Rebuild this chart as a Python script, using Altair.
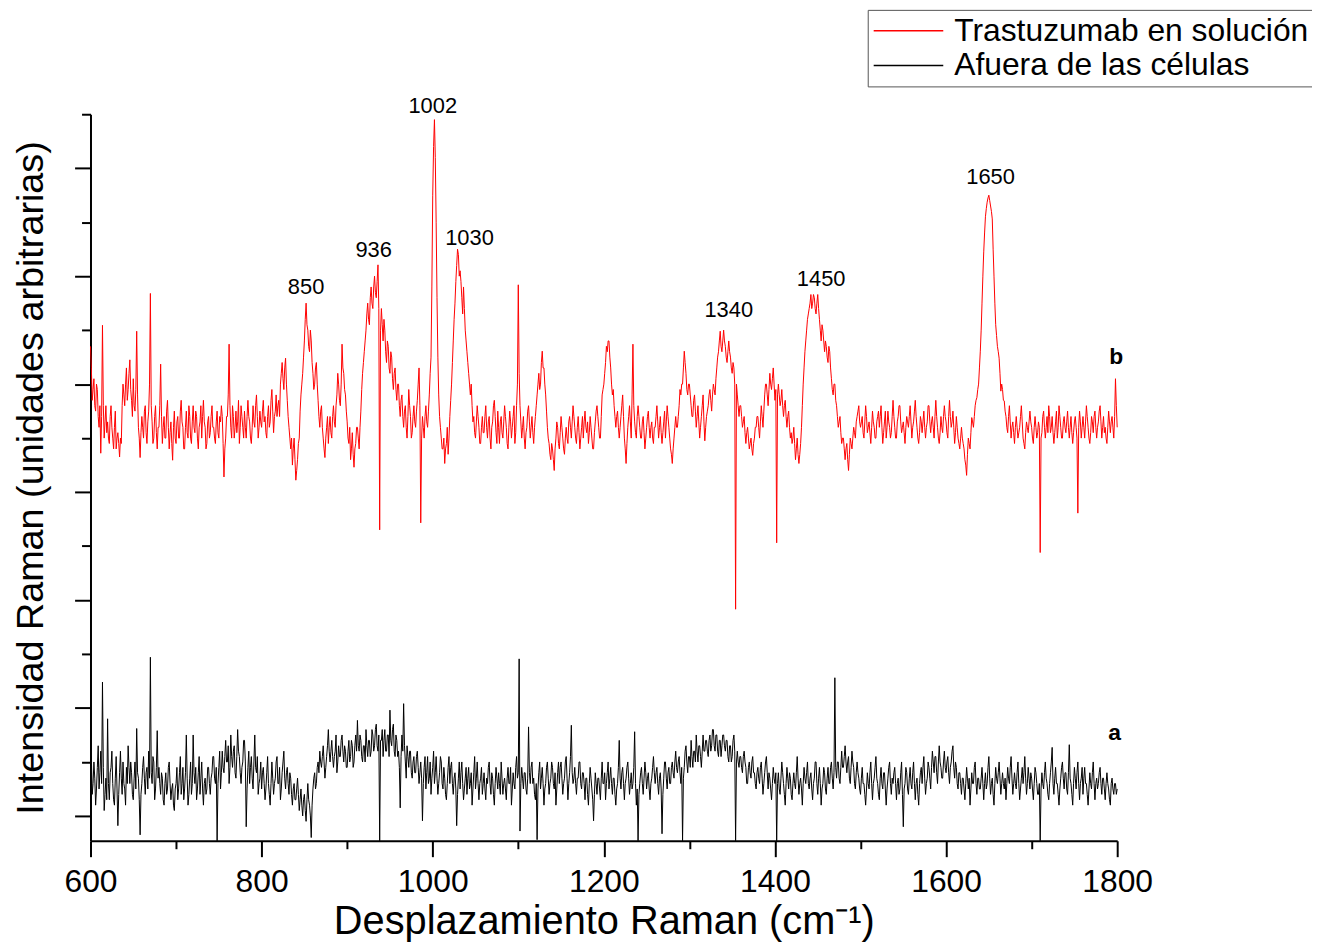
import altair as alt
import pandas as pd

RED_NAME = "Trastuzumab en solución"
BLACK_NAME = "Afuera de las células"

# Red spectrum (b): one value per cm-1, each row covers 20 cm-1 starting at 600
red_rows = [
    [870, 830, 770, 790, 810, 760, 750, 800, 790, 740, 720, 760, 672, 740, 909, 760, 700, 730, 760, 710],  # 600
    [730, 700, 690, 740, 760, 720, 700, 680, 720, 750, 680, 700, 710, 690, 665, 700, 690, 760, 800, 780],  # 620
    [760, 800, 830, 770, 790, 820, 845, 790, 770, 740, 810, 760, 750, 790, 898, 780, 720, 700, 664, 710],  # 640
    [740, 720, 700, 750, 760, 710, 690, 730, 750, 800, 968, 760, 730, 690, 700, 740, 760, 710, 680, 720],  # 660
    [720, 760, 837, 740, 690, 720, 740, 700, 700, 750, 770, 720, 680, 710, 730, 690, 659, 720, 750, 700],  # 680
    [690, 730, 740, 700, 700, 750, 770, 730, 720, 680, 680, 720, 750, 710, 700, 760, 740, 700, 690, 730],  # 700
    [760, 720, 710, 750, 740, 700, 680, 720, 730, 760, 700, 740, 770, 730, 720, 680, 690, 730, 740, 700],  # 720
    [710, 740, 760, 720, 720, 700, 690, 730, 750, 710, 700, 740, 730, 760, 740, 690, 628, 680, 700, 740],  # 740
    [740, 780, 874, 760, 720, 700, 760, 740, 700, 720, 750, 710, 730, 770, 690, 720, 760, 740, 720, 700],  # 760
    [750, 720, 700, 740, 770, 740, 730, 700, 690, 720, 760, 730, 720, 760, 780, 740, 700, 720, 750, 730],  # 780
    [720, 750, 770, 730, 740, 710, 700, 740, 760, 720, 730, 770, 790, 750, 710, 740, 750, 780, 740, 760],  # 800
    [770, 740, 800, 820, 840, 810, 790, 830, 848, 800, 770, 740, 720, 700, 680, 700, 650, 680, 700, 660],  # 820
    [622, 640, 660, 690, 700, 750, 780, 800, 820, 850, 880, 920, 950, 910, 900, 870, 860, 900, 880, 840],  # 840
    [820, 790, 800, 830, 840, 800, 770, 740, 720, 750, 760, 720, 700, 680, 664, 700, 720, 740, 690, 720],  # 860
    [740, 710, 700, 740, 760, 730, 720, 760, 780, 820, 800, 770, 760, 800, 874, 830, 820, 790, 780, 750],  # 880
    [730, 700, 690, 720, 660, 680, 710, 670, 646, 680, 690, 720, 720, 700, 680, 720, 750, 790, 820, 840],  # 900
    [860, 880, 900, 930, 950, 920, 910, 960, 980, 950, 940, 980, 1000, 970, 960, 990, 1021, 940, 530, 900],  # 920
    [940, 910, 880, 920, 900, 860, 840, 880, 870, 830, 820, 860, 850, 810, 790, 820, 830, 790, 770, 800],  # 940
    [800, 760, 740, 770, 780, 740, 720, 750, 760, 720, 700, 740, 790, 760, 740, 700, 710, 740, 760, 730],  # 960
    [720, 750, 770, 800, 830, 760, 543, 700, 740, 720, 700, 740, 760, 730, 720, 750, 780, 820, 850, 980],  # 980
    [1150, 1240, 1290, 1220, 1100, 960, 850, 780, 740, 720, 700, 680, 680, 700, 653, 680, 690, 720, 670, 700],  # 1000
    [740, 770, 800, 840, 880, 920, 950, 990, 1020, 1050, 1040, 1000, 1010, 990, 960, 930, 980, 940, 900, 880],  # 1020
    [860, 840, 820, 800, 780, 800, 760, 730, 740, 710, 700, 730, 760, 740, 720, 690, 690, 720, 740, 710],  # 1040
    [710, 740, 760, 720, 700, 730, 740, 700, 680, 720, 730, 760, 770, 740, 710, 690, 750, 720, 690, 730],  # 1060
    [740, 710, 700, 730, 760, 740, 720, 690, 680, 720, 750, 730, 700, 720, 740, 760, 690, 710, 760, 800],  # 1080
    [984, 820, 760, 730, 700, 720, 740, 700, 680, 710, 720, 750, 760, 730, 700, 720, 740, 710, 690, 720],  # 1100
    [740, 760, 780, 800, 820, 790, 800, 840, 861, 830, 830, 800, 780, 750, 720, 700, 690, 670, 660, 690],  # 1120
    [680, 660, 640, 680, 700, 730, 720, 690, 680, 710, 740, 720, 700, 680, 670, 700, 720, 700, 690, 730],  # 1140
    [740, 720, 700, 730, 760, 740, 720, 700, 690, 720, 740, 710, 680, 700, 720, 740, 700, 730, 750, 720],  # 1160
    [710, 730, 690, 710, 740, 720, 700, 680, 680, 710, 730, 750, 760, 740, 720, 700, 700, 740, 780, 790],  # 1180
    [800, 820, 840, 870, 860, 880, 880, 850, 830, 800, 780, 790, 760, 740, 720, 740, 750, 720, 700, 720],  # 1200
    [740, 760, 780, 740, 700, 680, 653, 690, 720, 740, 760, 730, 700, 780, 874, 760, 730, 710, 700, 740],  # 1220
    [760, 740, 720, 700, 700, 730, 740, 710, 680, 700, 720, 740, 750, 720, 700, 720, 730, 700, 690, 720],  # 1240
    [720, 740, 760, 730, 700, 720, 740, 710, 690, 710, 730, 750, 700, 730, 760, 740, 720, 700, 680, 670],  # 1260
    [653, 680, 700, 720, 740, 720, 720, 740, 760, 790, 780, 800, 800, 830, 861, 840, 820, 790, 780, 800],  # 1280
    [800, 780, 760, 740, 740, 770, 780, 750, 720, 740, 760, 730, 700, 720, 740, 760, 780, 730, 695, 720],  # 1300
    [740, 750, 760, 780, 790, 770, 750, 780, 800, 790, 780, 810, 830, 850, 860, 880, 898, 870, 860, 880],  # 1320
    [900, 880, 870, 850, 840, 860, 880, 860, 850, 830, 820, 840, 830, 800, 383, 800, 780, 760, 740, 760],  # 1340
    [760, 740, 720, 730, 740, 710, 690, 710, 720, 700, 680, 690, 700, 680, 668, 690, 700, 720, 720, 740],  # 1360
    [740, 720, 700, 730, 760, 740, 720, 750, 780, 800, 800, 780, 760, 790, 820, 800, 790, 810, 830, 800],  # 1380
    [770, 790, 506, 780, 800, 780, 760, 770, 790, 760, 740, 760, 770, 740, 720, 740, 750, 720, 700, 710],  # 1400
    [690, 700, 720, 690, 660, 680, 700, 670, 653, 670, 690, 720, 760, 800, 830, 860, 880, 900, 920, 930],  # 1420
    [940, 950, 966, 940, 950, 966, 960, 940, 930, 950, 966, 940, 920, 900, 880, 910, 900, 880, 860, 880],  # 1440
    [870, 850, 840, 870, 860, 830, 810, 790, 780, 800, 800, 770, 760, 740, 720, 730, 740, 710, 690, 700],  # 1460
    [700, 680, 660, 680, 690, 660, 640, 670, 700, 690, 680, 700, 720, 710, 700, 730, 740, 750, 760, 730],  # 1480
    [720, 730, 740, 710, 700, 730, 760, 740, 710, 720, 730, 710, 690, 720, 750, 730, 720, 700, 700, 730],  # 1500
    [740, 750, 720, 740, 760, 720, 690, 710, 730, 750, 700, 720, 750, 730, 720, 700, 710, 740, 770, 740],  # 1520
    [720, 700, 700, 730, 740, 760, 760, 730, 710, 720, 730, 710, 690, 720, 740, 730, 720, 740, 760, 730],  # 1540
    [700, 720, 730, 750, 770, 740, 720, 700, 690, 710, 740, 730, 710, 730, 750, 720, 700, 720, 730, 760],  # 1560
    [760, 730, 710, 730, 740, 720, 700, 740, 770, 740, 720, 700, 690, 710, 740, 720, 710, 740, 760, 740],  # 1580
    [730, 710, 700, 740, 770, 740, 720, 730, 750, 720, 690, 710, 740, 720, 700, 690, 680, 700, 720, 700],  # 1600
    [690, 680, 660, 650, 631, 670, 700, 690, 680, 710, 738, 730, 720, 740, 760, 770, 775, 790, 800, 830],  # 1620
    [861, 900, 950, 1000, 1045, 1080, 1110, 1125, 1137, 1145, 1150, 1140, 1130, 1120, 1106, 1050, 1000, 950, 910, 890],  # 1640
    [870, 860, 848, 820, 787, 800, 790, 770, 769, 750, 740, 720, 710, 740, 760, 730, 700, 720, 730, 710],  # 1660
    [690, 720, 740, 720, 700, 710, 720, 740, 760, 730, 700, 690, 680, 710, 730, 720, 710, 730, 750, 730],  # 1680
    [720, 700, 690, 720, 740, 720, 700, 710, 730, 720, 488, 700, 710, 740, 750, 720, 700, 720, 740, 710],  # 1700
    [760, 740, 710, 720, 740, 710, 690, 710, 730, 750, 700, 720, 760, 740, 720, 700, 700, 730, 740, 720],  # 1720
    [710, 730, 750, 720, 700, 720, 740, 710, 690, 710, 730, 740, 720, 700, 561, 720, 750, 730, 700, 720],  # 1740
    [740, 720, 700, 730, 760, 740, 720, 700, 690, 710, 740, 730, 710, 740, 750, 720, 700, 720, 730, 750],  # 1760
    [760, 730, 700, 720, 740, 710, 720, 700, 690, 720, 750, 730, 710, 730, 740, 720, 700, 740, 810, 760],  # 1780
]
red_last = 720  # 1800

# Black spectrum (a)
black_rows = [
    [80, 110, 40, 60, 100, 70, 20, 50, 90, 130, 50, 80, 120, 60, 248, 90, 10, 40, 70, 30],  # 600
    [180, 60, 30, 80, 90, 120, 60, 30, 20, 70, 110, 50, -18, 40, 80, 120, 70, 40, 100, 60],  # 620
    [50, 20, 90, 60, 130, 90, 60, 100, 80, 40, 30, 70, 100, 50, 162, 80, 70, 30, -35, 40],  # 640
    [60, 90, 110, 70, 40, 80, 90, 50, 120, 70, 294, 80, 60, 110, 100, 30, 50, 90, 158, 70],  # 660
    [90, 60, 40, 80, 70, 30, 20, 60, 80, 40, 50, 90, 100, 60, 30, 50, 60, 20, 10, 50],  # 680
    [60, 90, 30, 50, 80, 110, 40, 60, 90, 30, 50, 80, 150, 70, 20, 40, 70, 100, 40, 60],  # 700
    [150, 80, 60, 90, 30, 50, 80, 110, 40, 70, 100, 50, 20, 60, 70, 40, 50, 90, 90, 60],  # 720
    [40, 70, 80, 110, 110, 70, 60, 90, -46, 60, 90, 120, 50, 80, 120, 90, 80, 110, 140, 100],  # 740
    [100, 130, 60, 90, 150, 110, 90, 120, 130, 80, 70, 110, 160, 120, 110, 80, 60, 90, 100, 140],  # 760
    [140, 100, -20, 50, 90, 120, 60, 90, 110, 70, 50, 100, 150, 90, 80, 110, 40, 60, 70, 100],  # 780
    [50, 80, 90, 60, 30, 50, 80, 110, 60, 40, 20, 60, 100, 70, 40, 60, 70, 100, 110, 60],  # 800
    [60, 90, 30, 50, 80, 100, 120, 70, 50, 80, 90, 60, 40, 80, 70, 40, 20, 50, 60, 30],  # 820
    [30, 50, 70, 40, 10, 30, 50, 20, 0, 30, 40, 10, -10, 30, 60, 30, 20, 0, -40, 20],  # 840
    [50, 70, 80, 50, 60, 90, 100, 80, 120, 100, 90, 110, 130, 100, 70, 90, 110, 130, 160, 120],  # 860
    [100, 120, 140, 110, 90, 110, 120, 150, 80, 100, 130, 110, 110, 140, 150, 120, 100, 130, 120, 90],  # 880
    [90, 120, 140, 100, 110, 140, 130, 90, 100, 130, 150, 120, 177, 130, 120, 150, 140, 110, 100, 130],  # 900
    [130, 100, 160, 130, 110, 140, 140, 110, 120, 160, 150, 120, 130, 160, 170, 130, 120, 150, -46, 140],  # 920
    [140, 160, 110, 140, 160, 120, 120, 150, 150, 110, 196, 140, 130, 160, 170, 120, 110, 150, 140, 110],  # 940
    [120, 90, 15, 110, 150, 120, 208, 130, 100, 70, 130, 110, 90, 120, 120, 80, 70, 100, 110, 80],  # 960
    [80, 110, 120, 90, 60, 80, 100, 70, -9, 60, 90, 110, 50, 80, 110, 60, 70, 100, 40, 70],  # 980
    [90, 120, 60, 80, 110, 70, 40, 60, 80, 110, 100, 60, 50, 90, 70, 40, 30, 60, 90, 110],  # 1000
    [60, 90, 100, 60, 40, 70, 80, 50, -18, 40, 70, 100, 50, 80, 100, 60, 30, 50, 70, 90],  # 1020
    [40, 70, 90, 50, 60, 80, 20, 50, 80, 110, 50, 70, 100, 60, 30, 60, 70, 90, 40, 60],  # 1040
    [80, 50, 30, 70, 60, 90, 100, 60, 40, 80, 70, 40, 20, 60, 90, 70, 50, 80, 60, 40],  # 1060
    [100, 70, 40, 60, 70, 50, 30, 70, 90, 60, 60, 90, 20, 50, 80, 60, 50, 90, 110, 70],  # 1080
    [80, 291, -28, 60, 90, 70, 50, 80, 80, 50, 40, 70, 165, 80, 60, 90, 100, 60, 70, 40],  # 1100
    [30, 60, -44, 50, 80, 100, 50, 70, 90, 60, 20, 50, 60, 90, 100, 70, 40, 60, 70, 100],  # 1120
    [90, 60, 50, 80, 20, 50, 80, 100, 60, 90, 100, 70, 40, 60, 70, 100, 110, 70, 30, 60],  # 1140
    [80, 110, 168, 80, 60, 70, 90, 60, 40, 70, 70, 100, 100, 60, 50, 80, 80, 60, 30, 70],  # 1160
    [70, 40, 20, 60, 90, 70, 50, 30, -9, 40, 80, 60, 40, 70, 70, 50, 30, 70, 100, 60],  # 1180
    [60, 80, 30, 60, 80, 100, 50, 70, 90, 60, 40, 70, 70, 40, 20, 50, 60, 90, 140, 70],  # 1200
    [50, 80, 90, 60, 30, 60, 70, 90, 100, 70, 40, 60, 80, 50, 60, 90, 156, 60, 20, 50],  # 1220
    [-46, 40, 60, 80, 90, 60, 40, 70, 100, 80, 50, 70, 80, 50, 30, 60, 70, 90, 110, 80],  # 1240
    [60, 80, 90, 60, 40, 70, 80, 50, -33, 40, 70, 100, 100, 70, 50, 80, 90, 60, 60, 90],  # 1260
    [100, 80, 70, 100, 120, 90, 80, 100, 110, 80, 60, 90, -46, 70, 90, 120, 130, 100, 80, 110],  # 1280
    [110, 90, 140, 110, 90, 120, 120, 100, 150, 120, 100, 130, 130, 110, 90, 120, 150, 120, 120, 140],  # 1300
    [140, 120, 110, 140, 150, 120, 130, 160, 160, 130, 120, 150, 150, 120, 110, 140, 140, 110, 130, 150],  # 1320
    [150, 130, 120, 140, 140, 110, 100, 130, 130, 100, 110, 140, 150, 120, -46, 100, 120, 100, 90, 110],  # 1340
    [110, 90, 80, 110, 120, 100, 90, 60, 60, 90, 100, 80, 70, 100, 110, 80, 80, 60, 50, 80],  # 1360
    [90, 70, 60, 90, 100, 70, 40, 60, 80, 100, 110, 80, 50, 80, 70, 50, 30, 60, 90, 70],  # 1380
    [60, 80, -46, 60, 80, 50, 40, 70, 100, 80, 60, 40, 20, 60, 90, 70, 50, 80, 70, 40],  # 1400
    [30, 60, 80, 60, 50, 80, 110, 70, 40, 60, 70, 50, 20, 60, 90, 70, 60, 80, 100, 60],  # 1420
    [50, 70, 80, 50, 30, 60, 70, 100, 100, 60, 40, 70, 90, 60, 20, 50, 60, 90, 80, 50],  # 1440
    [40, 70, 90, 60, 60, 90, 100, 70, 50, 80, 256, 90, 70, 100, 100, 70, 60, 90, 120, 90],  # 1460
    [90, 110, 130, 100, 80, 100, 110, 70, 60, 90, 120, 100, 90, 60, 50, 80, 100, 80, 70, 50],  # 1480
    [40, 70, 90, 60, 60, 40, 20, 50, 80, 60, 50, 80, 100, 60, 30, 60, 70, 90, 110, 70],  # 1500
    [60, 40, 30, 70, 90, 60, 50, 80, 80, 50, 20, 50, 70, 90, 100, 60, 40, 70, 60, 80],  # 1520
    [90, 60, 30, 60, 70, 40, 50, 80, 100, 40, -20, 50, 60, 90, 80, 50, 40, 70, 90, 60],  # 1540
    [50, 80, 100, 60, 30, 60, 70, 40, 20, 60, 80, 90, 60, 90, 110, 70, 40, 60, 70, 100],  # 1560
    [90, 70, 50, 90, 120, 100, 80, 110, 110, 80, 60, 100, 130, 100, 90, 70, 70, 100, 120, 90],  # 1580
    [80, 100, 110, 80, 60, 90, 100, 120, 130, 90, 70, 100, 90, 60, 50, 80, 80, 60, 40, 70],  # 1600
    [70, 50, 30, 60, 90, 70, 50, 70, 20, 50, 80, 60, 60, 90, 100, 60, 40, 70, 70, 50],  # 1620
    [50, 70, 90, 60, 30, 60, 80, 50, 60, 90, 110, 70, 40, 60, 70, 40, 20, 60, 90, 70],  # 1640
    [60, 80, 100, 70, 40, 60, 80, 60, 50, 70, 30, 60, 90, 70, 60, 90, 110, 70, 40, 60],  # 1660
    [80, 60, 50, 80, 100, 60, 30, 50, 70, 90, 60, 80, 110, 70, 40, 60, 90, 70, 50, 80],  # 1680
    [70, 50, 30, 60, 90, 80, 60, 40, 40, 60, -46, 50, 80, 60, 50, 80, 100, 70, 60, 40],  # 1700
    [30, 60, 80, 100, 127, 60, 40, 70, 90, 60, 60, 40, 20, 50, 70, 90, 100, 70, 50, 80],  # 1720
    [80, 50, 40, 80, 132, 70, 60, 40, 20, 60, 90, 70, 50, 80, 100, 60, 30, 60, 70, 90],  # 1740
    [40, 70, 90, 60, 60, 40, 20, 50, 80, 60, 50, 80, 100, 60, 30, 60, 70, 50, 60, 80],  # 1760
    [90, 60, 40, 70, 70, 50, 30, 60, 80, 60, 50, 30, 20, 60, 70, 50, 40, 60, 60, 40],  # 1780
]
black_last = 50  # 1800

# Peak annotations
peak_labels = ["850", "936", "1002", "1030", "1340", "1450", "1650"]
peak_x = [852, 931, 1000, 1043, 1346, 1454, 1652]
peak_y = [979, 1049, 1316, 1071, 937, 995, 1183]

curve_labels = ["b", "a"]
curve_x = [1799, 1797]
curve_y = [850, 153]

x_major = [600, 800, 1000, 1200, 1400, 1600, 1800]
x_minor = [700, 900, 1100, 1300, 1500, 1700]
y_major = [0, 200, 400, 600, 800, 1000, 1200]
y_minor = [100, 300, 500, 700, 900, 1100, 1300]


def build(rows, last, name):
    out = []
    for r, vals in enumerate(rows):
        for i, v in enumerate(vals):
            out.append({"wn": 600 + 20 * r + i, "val": v, "serie": name})
    out.append({"wn": 1800, "val": last, "serie": name})
    return out


df = pd.DataFrame(build(red_rows, red_last, RED_NAME) + build(black_rows, black_last, BLACK_NAME))
peaks = pd.DataFrame({"tx": peak_x, "ty": peak_y, "lab": peak_labels})
curves = pd.DataFrame({"cx": curve_x, "cy": curve_y, "lab": curve_labels})

FONT = "Liberation Sans"
xs = alt.Scale(domain=[600, 1800], nice=False, zero=False)
ys = alt.Scale(domain=[-46, 1300], nice=False, zero=False)

lines = alt.Chart(df).mark_line(strokeWidth=1).encode(
    x=alt.X("wn:Q", scale=xs,
            axis=alt.Axis(values=x_major, title="Desplazamiento Raman (cm⁻¹)", tickSize=16,
                          labelPadding=10, labelFlush=False, titlePadding=4, titleFontSize=40,
                          orient="bottom", format="d")),
    y=alt.Y("val:Q", scale=ys,
            axis=alt.Axis(values=y_major, labels=False, title="Intensidad Raman (unidades arbitrarias)",
                          tickSize=16, titlePadding=23, titleFontSize=38, orient="left")),
    color=alt.Color("serie:N",
                    scale=alt.Scale(domain=[RED_NAME, BLACK_NAME], range=["#ff0000", "#000000"]),
                    legend=alt.Legend(title=None, orient="none", legendX=782, legendY=-105,
                                      symbolType="M-2.5,0H2.5", symbolSize=784, symbolStrokeWidth=1.5,
                                      symbolOffset=20, labelOffset=30, labelFontSize=32, labelFont=FONT,
                                      labelColor="black", labelLimit=600, strokeColor="#555555",
                                      fillColor="white", padding=5, rowPadding=3)),
    order=alt.Order("wn:Q"),
)

peak_text = alt.Chart(peaks).mark_text(font=FONT, fontSize=22, color="black", align="center",
                                       baseline="middle").encode(
    x=alt.X("tx:Q", scale=xs,
            axis=alt.Axis(values=x_minor, labels=False, domain=False, tickSize=8, title=None,
                          orient="bottom")),
    y=alt.Y("ty:Q", scale=ys,
            axis=alt.Axis(values=y_minor, labels=False, domain=False, tickSize=9, title=None,
                          orient="left")),
    text="lab:N",
)

curve_text = alt.Chart(curves).mark_text(font=FONT, fontSize=23, fontWeight="bold", color="black",
                                         align="center", baseline="middle").encode(
    x=alt.X("cx:Q", scale=xs, axis=None),
    y=alt.Y("cy:Q", scale=ys, axis=None),
    text="lab:N",
)

chart = alt.layer(lines, peak_text, curve_text).resolve_axis(
    x="independent", y="independent"
).properties(
    width=1033, height=731,
    autosize=alt.AutoSizeParams(type="none"),
    padding={"left": 83, "top": 104, "right": 196, "bottom": 105},
    background="white",
).configure_view(stroke=None).configure_axis(
    grid=False, domainColor="black", domainWidth=2, tickColor="black", tickWidth=2,
    labelFont=FONT, labelFontSize=32, labelColor="black",
    titleFont=FONT, titleFontWeight="normal", titleColor="black",
)

chart.save("out.html", embed_options={"renderer": "svg", "actions": False})
